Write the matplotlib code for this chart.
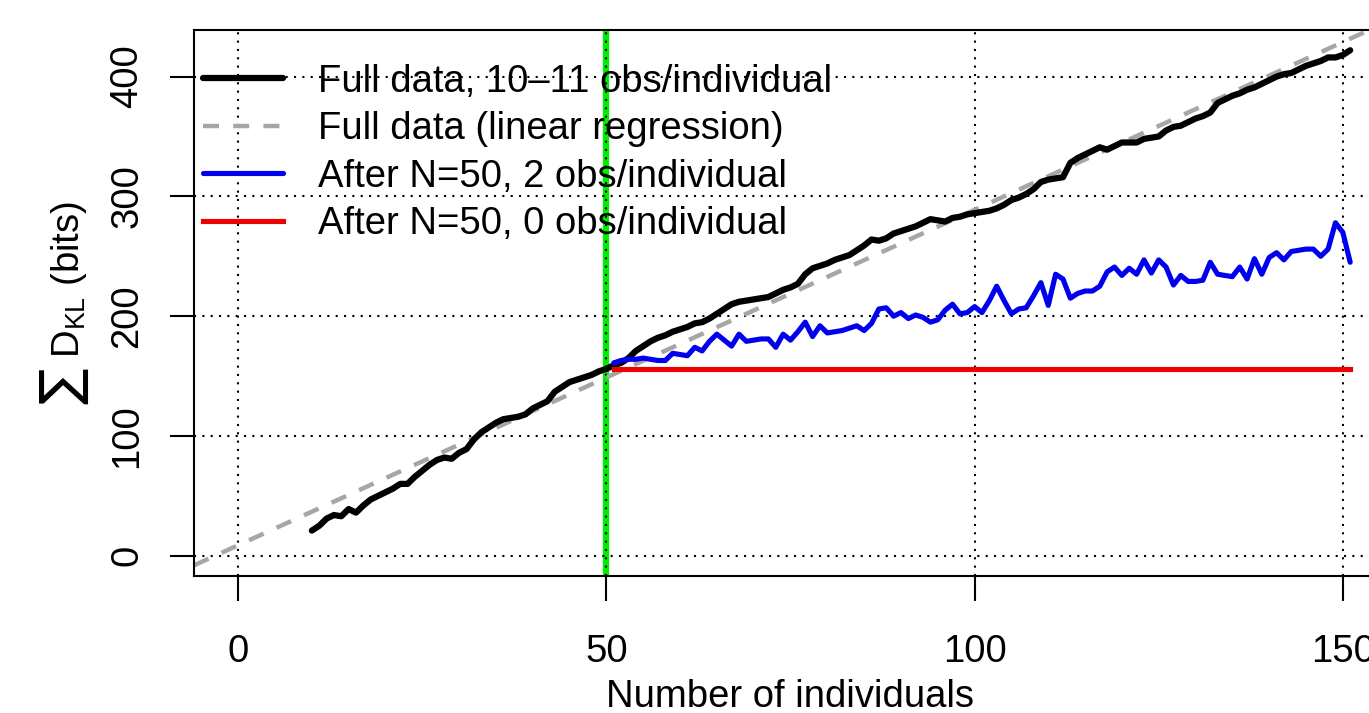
import matplotlib
matplotlib.use("Agg")
import matplotlib.pyplot as plt
from matplotlib.lines import Line2D

plt.rcParams['font.family'] = ['Liberation Sans', 'DejaVu Sans']

# ---------------- data ----------------
full_N = list(range(10, 152))
full_dkl = [21, 25, 31, 34, 33, 39, 36, 42, 47, 50,
            53, 56, 60, 60, 66, 71, 76, 80, 82, 81,
            86, 89, 97, 103, 107, 111, 114, 115, 116, 118,
            123, 126, 129, 137, 141, 145, 147, 149, 151, 154,
            156, 159, 161, 165, 171, 175, 179, 182, 184, 187,
            189, 191, 194, 195, 198, 202, 206, 210, 212, 213,
            214, 215, 216, 219, 222, 224, 227, 235, 240, 242,
            244, 247, 249, 251, 255, 259, 264, 263, 265, 269,
            271, 273, 275, 278, 281, 280, 279, 282, 283, 285,
            286, 287, 288, 290, 293, 297, 299, 302, 306, 312,
            314, 315, 316, 328, 332, 335, 338, 341, 339, 342,
            345, 345, 345, 348, 349, 350, 355, 358, 359, 362,
            365, 367, 370, 378, 381, 384, 386, 389, 391, 394,
            397, 400, 402, 403, 406, 409, 411, 413, 416, 416,
            418, 422]

two_obs_N = list(range(51, 152))
two_obs_dkl = [161, 163, 164, 164, 165, 164, 163, 163, 169, 168,
               167, 174, 171, 179, 185, 180, 175, 185, 179, 180,
               181, 181, 174, 185, 180, 187, 195, 183, 192, 186,
               187, 188, 190, 192, 188, 194, 206, 207, 200, 203,
               198, 201, 199, 195, 197, 205, 210, 202, 203, 208,
               203, 213, 225, 213, 202, 206, 207, 217, 228, 209,
               235, 231, 215, 219, 221, 221, 225, 237, 241, 234,
               240, 235, 247, 236, 247, 241, 226, 234, 229, 229,
               230, 245, 235, 234, 233, 241, 231, 248, 235, 249,
               253, 247, 254, 255, 256, 256, 250, 256, 278, 270,
               245]

zero_obs_N = [51, 151]
zero_obs_dkl = [156, 156]

reg_intercept = 8.8
reg_slope = 2.8

cutoff_N = 50

x_ticks = [0, 50, 100, 150]
y_ticks = [0, 100, 200, 300, 400]

labels = ["Full data, 10\u201311 obs/individual",
          "Full data (linear regression)",
          "After N=50, 2 obs/individual",
          "After N=50, 0 obs/individual"]

# ---------------- figure ----------------
W, H = 1369, 713
fig = plt.figure(figsize=(W / 100, H / 100), dpi=100)
ax_left, ax_right, ax_top, ax_bottom = 194, 1387, 30, 576
ax = fig.add_axes([ax_left / W, 1 - ax_bottom / H,
                   (ax_right - ax_left) / W, (ax_bottom - ax_top) / H])

fs = 27.5

ax.set_xlim(-6, 156)
ax.set_ylim(-16.9, 438.9)

ax.axvline(cutoff_N, color='#00ee00', lw=4.5, zorder=1)
ax.grid(True, color='black', linestyle=(0, (1, 3)), lw=1.5)
for gl in ax.get_xgridlines() + ax.get_ygridlines():
    gl.set_zorder(1.5)

gray = '#a6a6a6'
ax.axline((0, reg_intercept), slope=reg_slope, color=gray, lw=3.2,
          linestyle=(0, (3.6, 3.2)), zorder=2)
l_full, = ax.plot(full_N, full_dkl, color='black', lw=4.5, zorder=3,
                  solid_joinstyle='round', solid_capstyle='round')
l_two, = ax.plot(two_obs_N, two_obs_dkl, color='#0000ee', lw=3.7, zorder=3,
                 solid_joinstyle='round', solid_capstyle='round')
l_zero, = ax.plot(zero_obs_N, zero_obs_dkl, color='#ee0000', lw=3.7, zorder=3)

h_reg = Line2D([], [], color=gray, lw=3.2, linestyle=(0, (3.6, 3.2)))
leg = ax.legend([l_full, h_reg, l_two, l_zero], labels,
                loc='upper left', bbox_to_anchor=(0.0075, 0.938),
                frameon=False, fontsize=fs, borderpad=0, borderaxespad=0,
                handlelength=2.1, handletextpad=0.9, labelspacing=0.3)
leg.set_zorder(5)

ax.set_xticks(x_ticks)
ax.set_yticks(y_ticks)
ax.tick_params(axis='x', length=18, width=1.5, pad=24, labelsize=fs)
ax.tick_params(axis='y', length=17, width=1.5, pad=18, labelsize=fs)
for lab in ax.get_yticklabels():
    lab.set_rotation(90)
    lab.set_va('center')

for sp in ax.spines.values():
    sp.set_linewidth(1.5)
    sp.set_color('black')

ax.set_xlabel("Number of individuals", fontsize=fs, va='center')
ax.xaxis.set_label_coords(0.5, (ax_bottom - 697) / (ax_bottom - ax_top))
ax.set_ylabel("\u2211 D$_\\mathregular{KL}$ (bits)", fontsize=fs, va='center')
ax.yaxis.set_label_coords((65 - ax_left) / (ax_right - ax_left), 0.5)

fig.savefig("out.png", dpi=100)
